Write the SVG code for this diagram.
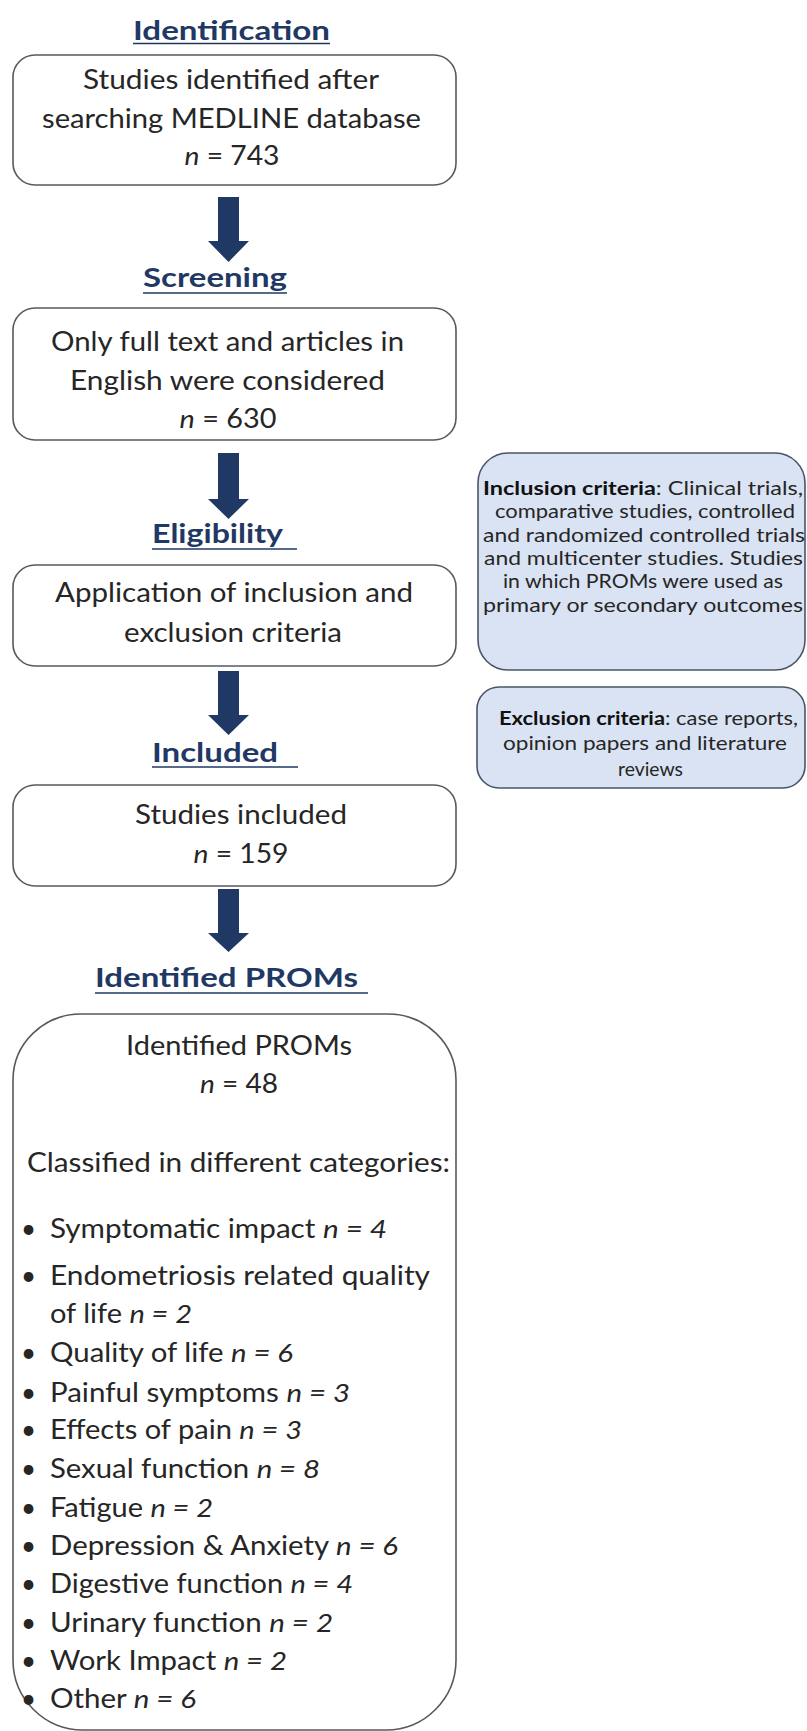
<svg xmlns="http://www.w3.org/2000/svg" width="807" height="1731" viewBox="0 0 807 1731">
<style>
.bg{fill:#ffffff}
.box{fill:#ffffff;stroke:#555a60;stroke-width:1.6}
.side{fill:#dae3f3;stroke:#4a5568;stroke-width:1.6}
.t{font-family:Lato,"Open Sans","Liberation Sans",sans-serif;font-size:26px;fill:#262626}
.m{text-anchor:middle}
.h{font-family:Lato,"Open Sans","Liberation Sans",sans-serif;font-size:27px;font-weight:bold;fill:#1f3864}
.ul{stroke:#1f3864;stroke-width:1.6}
.s{font-family:Lato,"Open Sans","Liberation Sans",sans-serif;font-size:19px;fill:#262626;text-anchor:middle}
.b{font-weight:bold;fill:#111}
.i{font-style:italic}
.arrow{fill:#1f3864}
</style>
<rect class="bg" x="0" y="0" width="807" height="1731"/>

<g id="heading-identification">
<text class="h" x="133" y="40" textLength="197" lengthAdjust="spacingAndGlyphs">Identification</text>
<line class="ul" x1="133" y1="43.5" x2="330" y2="43.5"/>
</g>
<g id="node-identification">
<rect class="box" x="13" y="55" width="443" height="130" rx="22"/>
<text class="t m" x="231" y="89" textLength="296" lengthAdjust="spacingAndGlyphs">Studies identified after</text>
<text class="t m" x="231.5" y="128" textLength="379" lengthAdjust="spacingAndGlyphs">searching MEDLINE database</text>
<text class="t m" x="232" y="165" textLength="95" lengthAdjust="spacingAndGlyphs"><tspan class="i">n</tspan> = 743</text>
</g>

<g id="heading-screening">
<text class="h" x="143" y="287" textLength="144" lengthAdjust="spacingAndGlyphs">Screening</text>
<line class="ul" x1="143" y1="293" x2="287" y2="293"/>
</g>
<g id="node-screening">
<rect class="box" x="13" y="308" width="443" height="132" rx="22"/>
<text class="t m" x="227.5" y="351" textLength="353" lengthAdjust="spacingAndGlyphs">Only full text and articles in</text>
<text class="t m" x="227.5" y="390" textLength="315" lengthAdjust="spacingAndGlyphs">English were considered</text>
<text class="t m" x="228" y="428" textLength="97" lengthAdjust="spacingAndGlyphs"><tspan class="i">n</tspan> = 630</text>
</g>

<g id="heading-eligibility">
<text class="h" x="152" y="543" textLength="131" lengthAdjust="spacingAndGlyphs">Eligibility</text>
<line class="ul" x1="152" y1="549" x2="297" y2="549"/>
</g>
<g id="node-eligibility">
<rect class="box" x="13" y="565" width="443" height="101" rx="22"/>
<text class="t m" x="234" y="602" textLength="358" lengthAdjust="spacingAndGlyphs">Application of inclusion and</text>
<text class="t m" x="233" y="642" textLength="218" lengthAdjust="spacingAndGlyphs">exclusion criteria</text>
</g>

<g id="node-inclusion">
<rect class="side" x="478" y="453" width="327" height="217" rx="30"/>
<text class="s" x="643" y="495" textLength="320" lengthAdjust="spacingAndGlyphs"><tspan class="b">Inclusion criteria</tspan>: Clinical trials,</text>
<text class="s" x="645" y="518" textLength="300" lengthAdjust="spacingAndGlyphs">comparative studies, controlled</text>
<text class="s" x="644" y="542" textLength="322" lengthAdjust="spacingAndGlyphs">and randomized controlled trials</text>
<text class="s" x="643.5" y="565" textLength="319" lengthAdjust="spacingAndGlyphs">and multicenter studies. Studies</text>
<text class="s" x="643" y="588" textLength="280" lengthAdjust="spacingAndGlyphs">in which PROMs were used as</text>
<text class="s" x="643" y="612" textLength="320" lengthAdjust="spacingAndGlyphs">primary or secondary outcomes</text>
</g>

<g id="node-exclusion">
<rect class="side" x="477" y="687" width="328" height="101" rx="22"/>
<text class="s" x="648.5" y="725" textLength="299" lengthAdjust="spacingAndGlyphs"><tspan class="b">Exclusion criteria</tspan>: case reports,</text>
<text class="s" x="645" y="750" textLength="284" lengthAdjust="spacingAndGlyphs">opinion papers and literature</text>
<text class="s" x="650.5" y="776" textLength="65" lengthAdjust="spacingAndGlyphs">reviews</text>
</g>

<g id="heading-included">
<text class="h" x="152" y="762" textLength="126" lengthAdjust="spacingAndGlyphs">Included</text>
<line class="ul" x1="152" y1="767" x2="298" y2="767"/>
</g>
<g id="node-included">
<rect class="box" x="13" y="785" width="443" height="101" rx="22"/>
<text class="t m" x="241" y="824" textLength="212" lengthAdjust="spacingAndGlyphs">Studies included</text>
<text class="t m" x="241" y="863" textLength="95" lengthAdjust="spacingAndGlyphs"><tspan class="i">n</tspan> = 159</text>
</g>

<g id="heading-proms">
<text class="h" x="95" y="987" textLength="263" lengthAdjust="spacingAndGlyphs">Identified PROMs</text>
<line class="ul" x1="95" y1="993" x2="368" y2="993"/>
</g>
<g id="node-proms">
<path class="box" d="M81,1014 H388 A68,66 0 0 1 456,1080 V1660 A70,70 0 0 1 386,1730 H83 A70,70 0 0 1 13,1660 V1080 A68,66 0 0 1 81,1014 Z"/>
<text class="t m" x="239" y="1055" textLength="226" lengthAdjust="spacingAndGlyphs">Identified PROMs</text>
<text class="t m" x="239" y="1093" textLength="78" lengthAdjust="spacingAndGlyphs"><tspan class="i">n</tspan> = 48</text>
<text class="t" x="27" y="1172" textLength="423" lengthAdjust="spacingAndGlyphs">Classified in different categories:</text>
<g class="t">
<text x="21" y="1238">•</text>
<text x="21" y="1285">•</text>
<text x="21" y="1362">•</text>
<text x="21" y="1402">•</text>
<text x="21" y="1439">•</text>
<text x="21" y="1478">•</text>
<text x="21" y="1517">•</text>
<text x="21" y="1555">•</text>
<text x="21" y="1593">•</text>
<text x="21" y="1632">•</text>
<text x="21" y="1670">•</text>
<text x="21" y="1708">•</text>
</g>
<text class="t" x="50" y="1238" textLength="337" lengthAdjust="spacingAndGlyphs">Symptomatic impact <tspan class="i">n = 4</tspan></text>
<text class="t" x="50" y="1285" textLength="380" lengthAdjust="spacingAndGlyphs">Endometriosis related quality</text>
<text class="t" x="50" y="1323" textLength="142" lengthAdjust="spacingAndGlyphs">of life <tspan class="i">n = 2</tspan></text>
<text class="t" x="50" y="1362" textLength="243" lengthAdjust="spacingAndGlyphs">Quality of life <tspan class="i">n = 6</tspan></text>
<text class="t" x="50" y="1402" textLength="300" lengthAdjust="spacingAndGlyphs">Painful symptoms <tspan class="i">n = 3</tspan></text>
<text class="t" x="50" y="1439" textLength="252" lengthAdjust="spacingAndGlyphs">Effects of pain <tspan class="i">n = 3</tspan></text>
<text class="t" x="50" y="1478" textLength="270" lengthAdjust="spacingAndGlyphs">Sexual function <tspan class="i">n = 8</tspan></text>
<text class="t" x="50" y="1517" textLength="163" lengthAdjust="spacingAndGlyphs">Fatigue <tspan class="i">n = 2</tspan></text>
<text class="t" x="50" y="1555" textLength="348" lengthAdjust="spacingAndGlyphs">Depression &amp; Anxiety <tspan class="i">n = 6</tspan></text>
<text class="t" x="50" y="1593" textLength="303" lengthAdjust="spacingAndGlyphs">Digestive function <tspan class="i">n = 4</tspan></text>
<text class="t" x="50" y="1632" textLength="283" lengthAdjust="spacingAndGlyphs">Urinary function <tspan class="i">n = 2</tspan></text>
<text class="t" x="50" y="1670" textLength="237" lengthAdjust="spacingAndGlyphs">Work Impact <tspan class="i">n = 2</tspan></text>
<text class="t" x="50" y="1708" textLength="146" lengthAdjust="spacingAndGlyphs">Other <tspan class="i">n = 6</tspan></text>
</g>

<g id="connectors">
<polygon class="arrow" points="218,197 239,197 239,241 249,241 228.5,262 208,241 218,241"/>
<polygon class="arrow" points="218,453 239,453 239,499 249,499 228.5,519 208,499 218,499"/>
<polygon class="arrow" points="218,671 239,671 239,715 249,715 228.5,735 208,715 218,715"/>
<polygon class="arrow" points="218,889 239,889 239,933 249,933 228.5,952 208,933 218,933"/>
</g>
</svg>
